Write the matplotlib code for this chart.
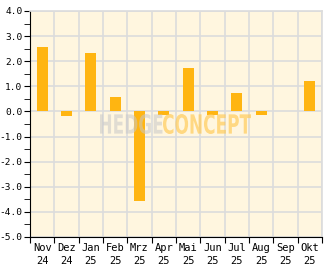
import matplotlib.pyplot as plt
from matplotlib.ticker import MultipleLocator
from matplotlib.textpath import TextPath
from matplotlib.patches import PathPatch
from matplotlib.font_manager import FontProperties
from matplotlib.transforms import Affine2D
import numpy as np

months = ["Nov\n24", "Dez\n24", "Jan\n25", "Feb\n25", "Mrz\n25", "Apr\n25",
          "Mai\n25", "Jun\n25", "Jul\n25", "Aug\n25", "Sep\n25", "Okt\n25"]
returns = [2.55, -0.17, 2.32, 0.58, -3.58, -0.15, 1.72, -0.13, 0.75, -0.15, 0.03, 1.22]
yvals = np.arange(-5, 5)

bar_color = "#FFB511"
grid_color = "#DCDCDC"

fig = plt.figure(figsize=(3.32, 2.69), dpi=100)
ax = fig.add_axes([30 / 332, 32 / 269, 292 / 332, 226 / 269])
ax.set_facecolor("#FFF6DF")

x = np.arange(len(months))
ax.bar(x, returns, width=0.46, color=bar_color, zorder=3)

ax.set_xlim(-0.5, len(months) - 0.5)
ax.set_ylim(-5, 4)

# gridlines between months, labels centred
ax.set_xticks(np.arange(len(months) + 1) - 0.5)
ax.set_xticklabels([])
ax.set_xticks(x, minor=True)
ax.set_xticklabels(months, minor=True, fontsize=7.5, family="DejaVu Sans Mono", linespacing=1.45)
ax.tick_params(axis="x", which="minor", length=0, pad=4)
ax.tick_params(axis="x", which="major", length=4, direction="out", color="black")

ax.set_yticks(yvals)
ax.set_yticklabels(["%.1f" % v for v in yvals], fontsize=6.8, family="DejaVu Sans Mono")
ax.yaxis.set_minor_locator(MultipleLocator(0.5))
ax.tick_params(axis="y", which="major", length=4, pad=1.5)
ax.tick_params(axis="y", which="minor", length=4)

ax.grid(True, which="major", color=grid_color, linewidth=1.2, zorder=0)
ax.set_axisbelow(True)

for side in ["top", "right"]:
    ax.spines[side].set_color(grid_color)
    ax.spines[side].set_linewidth(1.2)
for side in ["left", "bottom"]:
    ax.spines[side].set_color("black")

# watermark: bold letters squeezed to fit the box x 100..251, y 114..134 (pixels)
fp = FontProperties(family="DejaVu Sans", weight="bold")
p1 = TextPath((0, 0), "HEDGE", size=10, prop=fp)
p2 = TextPath((0, 0), "CONCEPT", size=10, prop=fp)
e1, e2 = p1.get_extents(), p2.get_extents()
gap = 0.3
sx = 151 / (e1.width + e2.width + gap)
sy = 20 / max(e1.height, e2.height)
base = 269 - 134
t1 = Affine2D().translate(-e1.x0, -e1.y0).scale(sx, sy).translate(100, base)
t2 = Affine2D().translate(-e2.x0, -e2.y0).scale(sx, sy).translate(100 + (e1.width + gap) * sx, base)
fig.patches.append(PathPatch(t1.transform_path(p1), facecolor="#C8C8C8", edgecolor="none",
                             alpha=0.55, transform=None, zorder=10))
fig.patches.append(PathPatch(t2.transform_path(p2), facecolor="#FFC850", edgecolor="none",
                             alpha=0.65, transform=None, zorder=10))

fig.savefig("out.png", dpi=100)
